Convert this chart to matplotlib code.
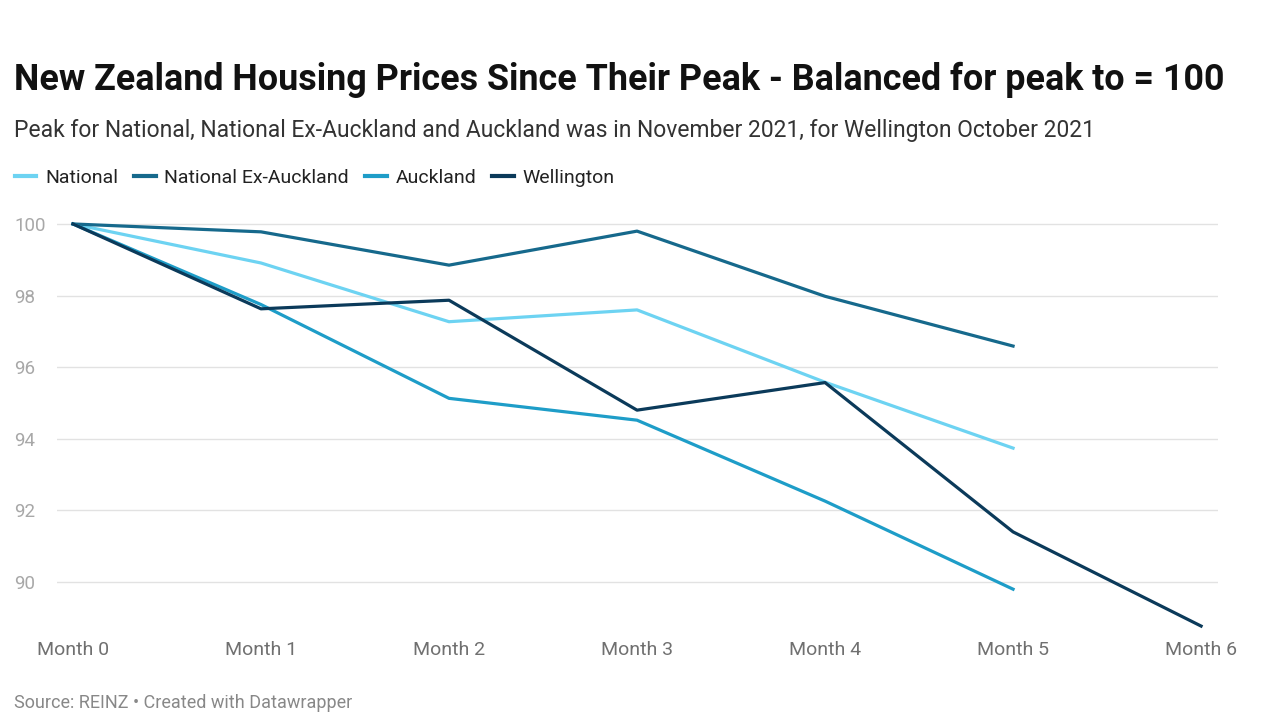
import matplotlib.pyplot as plt
from matplotlib.transforms import blended_transform_factory

# dades llegides del gràfic (índex, pic = 100)
months = ["Month 0", "Month 1", "Month 2", "Month 3", "Month 4", "Month 5", "Month 6"]
national = [100, 98.91, 97.27, 97.6, 95.58, 93.74]
national_ex_auckland = [100, 99.78, 98.85, 99.8, 97.98, 96.59]
auckland = [100, 97.75, 95.13, 94.52, 92.26, 89.8]
wellington = [100, 97.63, 97.87, 94.8, 95.57, 91.4, 88.77]
y_ticks = [90, 92, 94, 96, 98, 100]

series = [
    ("National", national, "#6dd3f2"),
    ("National Ex-Auckland", national_ex_auckland, "#16698c"),
    ("Auckland", auckland, "#1e9dc8"),
    ("Wellington", wellington, "#0b3a5a"),
]

plt.rcParams["font.family"] = ["Roboto", "DejaVu Sans"]

fig = plt.figure(figsize=(12.8, 7.2), dpi=100)
ax = fig.add_axes([57 / 1280, 1 - 630 / 720, (1218 - 57) / 1280, (630 - 210) / 720])

for name, values, color in series:
    ax.plot(range(len(values)), values, color=color, linewidth=2.3, label=name)

ax.set_xlim(-0.085, 6.09)
ax.set_ylim(88.66, 100.39)
ax.set_yticks(y_ticks)
ax.set_yticklabels([])
ax.set_xticks(range(len(months)))
ax.set_xticklabels(months, fontsize=14, color="#707070")
ax.tick_params(axis="x", length=0, pad=8)
ax.tick_params(axis="y", length=0)

# etiquetes de l'eix y alineades a l'esquerra
trans = blended_transform_factory(fig.transFigure, ax.transData)
for v in y_ticks:
    ax.text(14 / 1280, v, str(v), transform=trans, fontsize=13.5, color="#a8a8a8",
            va="center_baseline", ha="left")

ax.grid(axis="y", color="#e2e2e2", linewidth=1)
ax.set_axisbelow(True)
for s in ax.spines.values():
    s.set_visible(False)

fig.text(14 / 1280, 1 - 80 / 720, "New Zealand Housing Prices Since Their Peak - Balanced for peak to = 100",
         fontsize=25.8, fontweight="bold", color="#111111", va="center", ha="left")
fig.text(14 / 1280, 1 - 130 / 720,
         "Peak for National, National Ex-Auckland and Auckland was in November 2021, for Wellington October 2021",
         fontsize=16.45, color="#333333", va="center", ha="left")
fig.text(14 / 1280, 1 - 703 / 720, "Source: REINZ \u2022 Created with Datawrapper",
         fontsize=12.95, color="#888888", va="center", ha="left")

leg = fig.legend(loc="center left", bbox_to_anchor=(15 / 1280, 1 - 178 / 720), ncol=4, frameon=False,
                 fontsize=14, handlelength=1.1, handletextpad=0.45, columnspacing=0.83,
                 borderaxespad=0, borderpad=0)
for t in leg.get_texts():
    t.set_color("#222222")
for l in leg.get_lines():
    l.set_linewidth(3)

fig.savefig("out.png", dpi=100)
